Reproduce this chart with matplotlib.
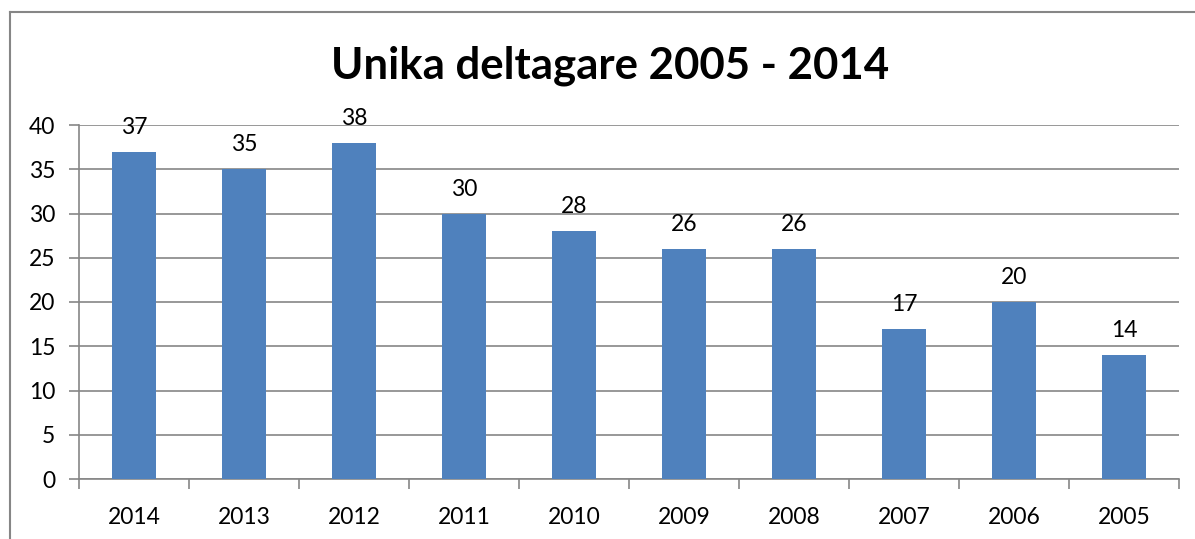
import numpy as np
import matplotlib
matplotlib.use("Agg")
import matplotlib.pyplot as plt
from matplotlib.lines import Line2D

years = ["2014", "2013", "2012", "2011", "2010", "2009", "2008", "2007", "2006", "2005"]
deltagare = [37, 35, 38, 30, 28, 26, 26, 17, 20, 14]
yticks = [0, 5, 10, 15, 20, 25, 30, 35, 40]

plt.rcParams['font.family'] = ['Lato', 'DejaVu Sans']
text_size = 16.5
bar_color = "#4F81BD"
grid_color = "#868686"

W, H = 1195, 539
fig = plt.figure(figsize=(W / 100, H / 100), dpi=100)
ax = fig.add_axes([79 / W, 1 - 479 / H, 1100 / W, 354 / H])

x = np.arange(len(years))
ax.bar(x, deltagare, width=0.4, color=bar_color, zorder=3)
for xi, v in zip(x, deltagare):
    ax.annotate(str(v), (xi, v), xytext=(0, 10), textcoords="offset points",
                ha="center", va="bottom", fontsize=text_size, color="black")

ax.set_xlim(-0.5, len(years) - 0.5)
ax.set_ylim(0, 40)
ax.set_yticks(yticks)
ax.set_yticklabels([str(t) for t in yticks], fontsize=text_size)
ax.set_xticks(x)
ax.set_xticklabels(years, fontsize=text_size)
ax.tick_params(axis="x", length=0, pad=20)
ax.tick_params(axis="y", length=7, color=grid_color, width=1.2, pad=10)
# category boundary ticks
ax.set_xticks(np.arange(-0.5, len(years), 1), minor=True)
ax.tick_params(axis="x", which="minor", length=7, color=grid_color, width=1.2)

ax.grid(True, axis="y", color=grid_color, lw=1.2, zorder=0)
for s in ["top", "right"]:
    ax.spines[s].set_visible(False)
ax.spines["left"].set_color(grid_color)
ax.spines["bottom"].set_color(grid_color)
ax.spines["left"].set_linewidth(1.2)
ax.spines["bottom"].set_linewidth(1.2)

fig.text(610 / W, 1 - 66 / H, "Unika deltagare 2005 - 2014", ha="center", va="center",
         fontsize=31.5, fontweight="bold")

# outer chart border (cropped at right and bottom)
fig.add_artist(Line2D([10 / W, 10 / W], [0, 1 - 12 / H], transform=fig.transFigure,
                      color=grid_color, lw=1.5))
fig.add_artist(Line2D([10 / W, 1], [1 - 12 / H, 1 - 12 / H], transform=fig.transFigure,
                      color=grid_color, lw=1.5))

fig.savefig("out.png", dpi=100)
